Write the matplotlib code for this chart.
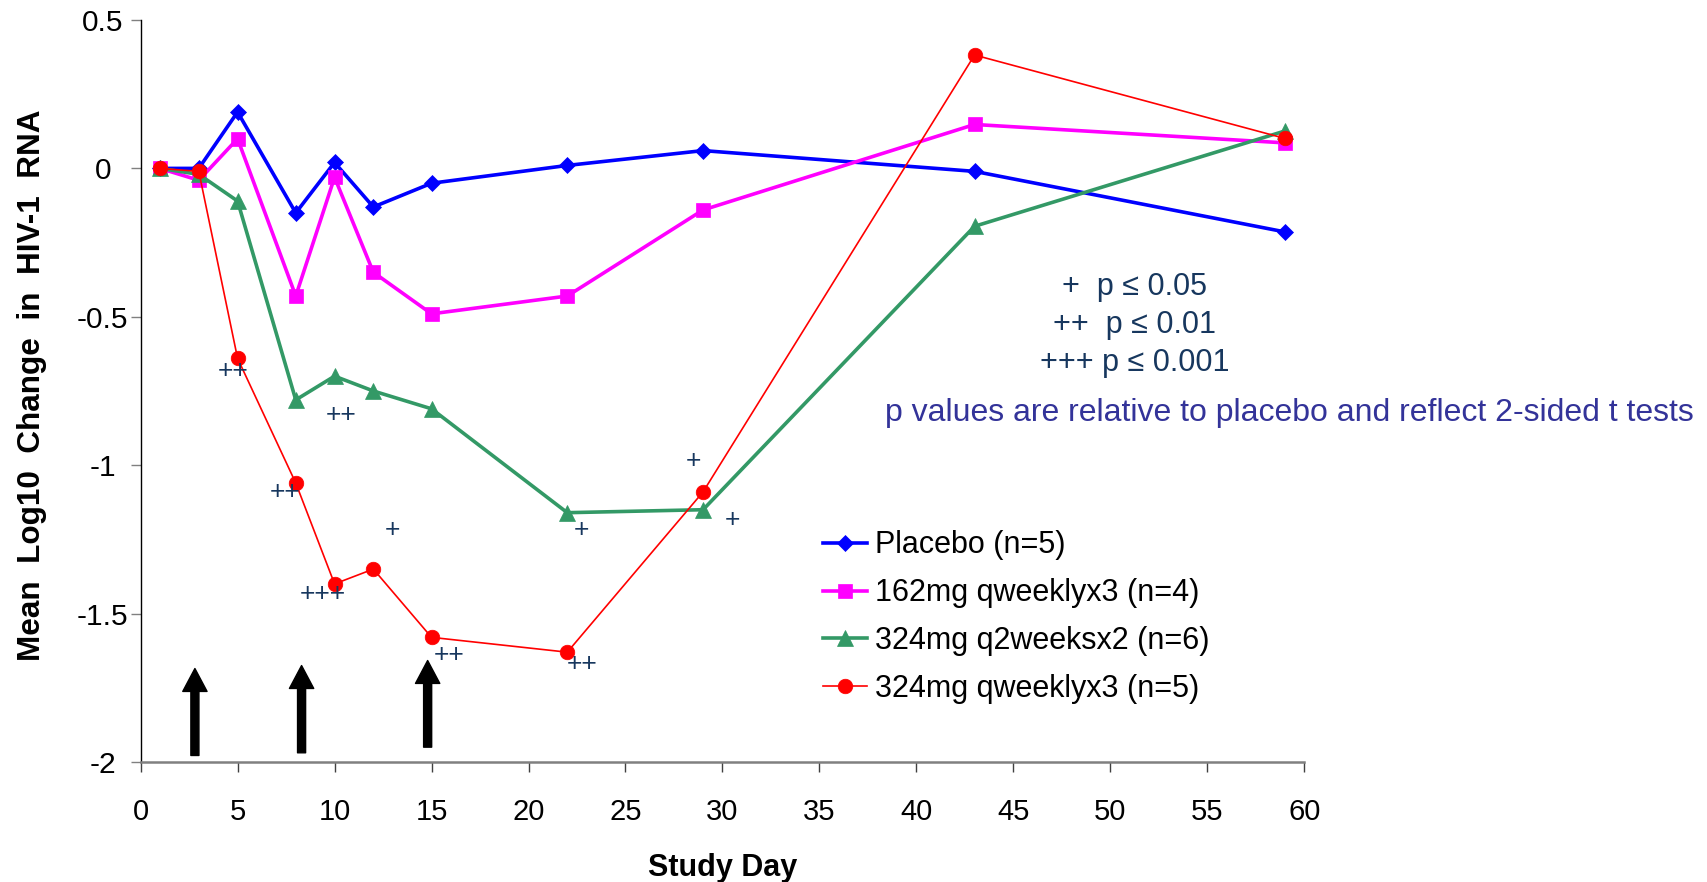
import matplotlib
matplotlib.use("Agg")
import matplotlib.pyplot as plt

plt.rcParams['font.family'] = ['Liberation Sans', 'DejaVu Sans']
plt.rcParams['axes.unicode_minus'] = False

# ---- data ----
days = [1, 3, 5, 8, 10, 12, 15, 22, 29, 43, 59]
placebo = [0.0, 0.0, 0.19, -0.15, 0.02, -0.13, -0.05, 0.01, 0.06, -0.01, -0.214]
mg162_weekly = [0.0, -0.04, 0.10, -0.43, -0.03, -0.35, -0.49, -0.43, -0.14, 0.148, 0.086]
mg324_2weeks = [0.0, -0.02, -0.11, -0.78, -0.70, -0.75, -0.81, -1.16, -1.15, -0.195, 0.126]
mg324_weekly = [0.0, -0.01, -0.64, -1.06, -1.40, -1.35, -1.58, -1.63, -1.09, 0.382, 0.101]

series_labels = ["Placebo (n=5)", "162mg qweeklyx3 (n=4)",
                 "324mg q2weeksx2 (n=6)", "324mg qweeklyx3 (n=5)"]

# significance marks (text, day, value)
sig_text = ["++", "++", "++", "+", "+++", "++", "++", "+", "+", "+"]
sig_x = [4.75, 10.35, 7.44, 12.97, 9.39, 15.9, 22.76, 22.74, 28.5, 30.5]
sig_y = [-0.682, -0.832, -1.090, -1.217, -1.435, -1.641, -1.669, -1.217, -0.986, -1.183]

# dosing arrows
dose_x = [2.8, 8.3, 14.8]
dose_top = [-1.685, -1.675, -1.658]
dose_bottom = [-1.978, -1.969, -1.950]

xticks = [0, 5, 10, 15, 20, 25, 30, 35, 40, 45, 50, 55, 60]
yticks = [0.5, 0, -0.5, -1, -1.5, -2]
ytick_labels = ["0.5", "0", "-0.5", "-1", "-1.5", "-2"]

key_lines = ["+  p \u2264 0.05", "++  p \u2264 0.01", "+++ p \u2264 0.001"]
footnote = "p values are relative to placebo and reflect 2-sided t tests"

# ---- figure ----
W, H = 1708, 882
fig = plt.figure(figsize=(W / 100, H / 100), dpi=100)
ax = fig.add_axes([140.6 / W, 1 - 762 / H, 1163.7 / W, 742 / H])

styles = [
    dict(color='#0000FF', marker='D', ms=8.5, lw=2.6),
    dict(color='#FF00FF', marker='s', ms=10, lw=2.6),
    dict(color='#339966', marker='^', ms=11, lw=2.6),
    dict(color='#FF0000', marker='o', ms=10.5, lw=1.2),
]
for vals, lab, st in zip([placebo, mg162_weekly, mg324_2weeks, mg324_weekly],
                         series_labels, styles):
    ax.plot(days, vals, color=st['color'], marker=st['marker'], ms=st['ms'],
            lw=st['lw'], mec=st['color'], mfc=st['color'], mew=0.5,
            label=lab, clip_on=False)

ax.set_xlim(0, 60)
ax.set_ylim(-2, 0.5)
ax.set_xticks(xticks)
ax.set_xticklabels([str(t) for t in xticks])
ax.set_yticks(yticks)
ax.set_yticklabels(ytick_labels)

for s in ['top', 'right']:
    ax.spines[s].set_visible(False)
ax.spines['left'].set_color('black')
ax.spines['left'].set_linewidth(1.0)
ax.spines['bottom'].set_color('#808080')
ax.spines['bottom'].set_linewidth(1.8)

ax.tick_params(axis='x', direction='out', length=7.2, width=1.0, color='#404040',
               labelsize=21, pad=19)
ax.tick_params(axis='y', direction='out', length=7.2, width=1.0, color='#808080',
               labelsize=21.5, pad=20)
for lbl in ax.get_yticklabels():
    lbl.set_horizontalalignment('center')

ax.set_xlabel("Study Day", fontsize=22, fontweight='bold')
ax.xaxis.set_label_coords(0.5, -0.122)
ax.set_ylabel("Mean  Log10  Change  in  HIV-1  RNA", fontsize=22.7, fontweight='bold')
ax.yaxis.set_label_coords(-0.0933, 0.508)
ax.yaxis.label.set_verticalalignment('center')

# significance marks
for t, x, y in zip(sig_text, sig_x, sig_y):
    ax.text(x, y, t, color='#17375E', fontsize=19, ha='center', va='center')

# dosing arrows
for x, yt, yb in zip(dose_x, dose_top, dose_bottom):
    ax.annotate('', xy=(x, yt), xytext=(x, yb),
                arrowprops=dict(facecolor='black', edgecolor='black',
                                width=5.8, headwidth=17.5, headlength=16.5,
                                shrink=0.0))

# p-value key
key_y = [0.6294, 0.5775, 0.5270]
for line, yy in zip(key_lines, key_y):
    ax.text(0.8545, yy, line, transform=ax.transAxes, color='#17375E',
            fontsize=22, ha='center', va='baseline')
ax.text(0.6397, 0.4596, footnote, transform=ax.transAxes, color='#333399',
        fontsize=23, ha='left', va='baseline')

leg = ax.legend(loc='upper left', bbox_to_anchor=(0.5864, 0.312),
                frameon=False, fontsize=22, numpoints=1, handlelength=1.44,
                handletextpad=0.26, labelspacing=0.58, borderpad=0,
                borderaxespad=0)

fig.savefig("out.png", dpi=100)
